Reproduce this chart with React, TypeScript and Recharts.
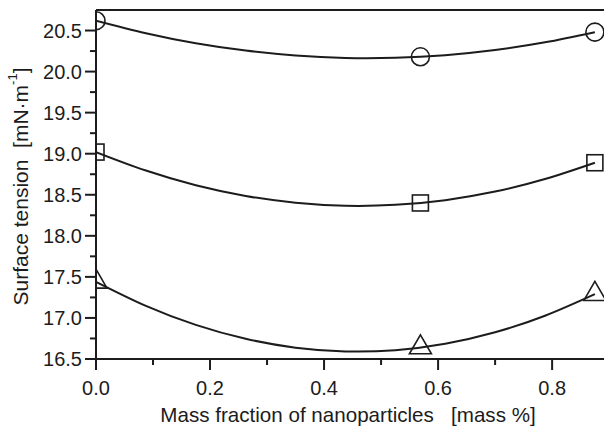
import React from "react"
import { ComposedChart, Line, Scatter, XAxis, YAxis, ReferenceLine } from "recharts"

// measured points (x = mass fraction, y = surface tension)
const xPoints = [0, 0.569, 0.875]
const circleValues = [20.62, 20.18, 20.48]
const squareValues = [19.02, 18.4, 18.89]
const triangleValues = [17.44, 16.64, 17.29]

// fitted curves
const curveX = [0, 0.0875, 0.175, 0.2625, 0.35, 0.4375, 0.525, 0.6125, 0.7, 0.7875, 0.875]
const circleCurve = [20.62, 20.468, 20.346, 20.256, 20.196, 20.166, 20.168, 20.2, 20.263, 20.356, 20.48]
const squareCurve = [19.02, 18.795, 18.617, 18.486, 18.403, 18.366, 18.377, 18.434, 18.539, 18.691, 18.89]
const triangleCurve = [17.44, 17.147, 16.916, 16.746, 16.638, 16.592, 16.608, 16.686, 16.826, 17.027, 17.29]

const xTicks = [0, 0.1, 0.2, 0.3, 0.4, 0.5, 0.6, 0.7, 0.8]
const yTicks = [16.5, 16.75, 17, 17.25, 17.5, 17.75, 18, 18.25, 18.5, 18.75, 19, 19.25, 19.5, 19.75, 20, 20.25, 20.5]

const FONT = "'Liberation Sans', Arial, sans-serif"
const INK = "#1c1c1c"

const curveData = curveX.map((x, i) => ({
    x,
    circle: circleCurve[i],
    square: squareCurve[i],
    triangle: triangleCurve[i],
}))
const toPoints = (vals: number[]) => xPoints.map((x, i) => ({ x, y: vals[i] }))

const isMajor = (v: number, step: number) => Math.abs(v / step - Math.round(v / step)) < 1e-6

function XTick(props: any) {
    const { x, y, payload } = props
    const major = isMajor(payload.value, 0.2)
    return (
        <g>
            <line x1={x} x2={x} y1={y} y2={y + (major ? 11 : 6)} stroke={INK} strokeWidth={2} />
            {major && (
                <text x={x} y={y + 36} textAnchor="middle" fontSize={20} fill={INK} fontFamily={FONT}>
                    {payload.value.toFixed(1)}
                </text>
            )}
        </g>
    )
}

function YTick(props: any) {
    const { x, y, payload } = props
    const major = isMajor(payload.value, 0.5)
    return (
        <g>
            <line x1={x} x2={x - (major ? 11 : 6)} y1={y} y2={y} stroke={INK} strokeWidth={2} />
            {major && (
                <text x={x - 14} y={y + 7} textAnchor="end" fontSize={20} fill={INK} fontFamily={FONT}>
                    {payload.value.toFixed(1)}
                </text>
            )}
        </g>
    )
}

// markers are cut at the plot frame, like in the original
const circleShape = (p: any) => (
    <circle cx={p.cx} cy={p.cy} r={9} fill="none" stroke={INK} strokeWidth={1.6} clipPath="url(#plot-frame)" />
)
const squareShape = (p: any) => (
    <rect
        x={p.cx - 8}
        y={p.cy - 8}
        width={16}
        height={16}
        fill="none"
        stroke={INK}
        strokeWidth={1.6}
        clipPath="url(#plot-frame)"
    />
)
const triangleShape = (p: any) => (
    <path
        d={`M${p.cx},${p.cy - 12.7} L${p.cx + 11},${p.cy + 6.3} L${p.cx - 11},${p.cy + 6.3} Z`}
        fill="none"
        stroke={INK}
        strokeWidth={1.6}
        clipPath="url(#plot-frame)"
    />
)

function YTitle(props: any) {
    const vb = props.viewBox
    const cx = vb.x + 20
    const cy = vb.y + vb.height / 2 + 2
    return (
        <text
            transform={`translate(${cx},${cy}) rotate(-90)`}
            textAnchor="middle"
            dominantBaseline="central"
            fontSize={21}
            fill={INK}
            fontFamily={FONT}
            style={{ whiteSpace: "pre" }}
        >
            {"Surface tension  [mN·m"}
            <tspan fontSize={13} dy={-8}>-1</tspan>
            <tspan dy={8}>]</tspan>
        </text>
    )
}

function XTitle(props: any) {
    const vb = props.viewBox
    return (
        <g>
            <defs>
                <clipPath id="plot-frame">
                    <rect x={vb.x} y={0} width={vb.width} height={vb.y} />
                </clipPath>
            </defs>
            <text
                x={vb.x + vb.width / 2 - 2}
                y={vb.y + 63}
                textAnchor="middle"
                fontSize={20.6}
                fill={INK}
                fontFamily={FONT}
                style={{ whiteSpace: "pre" }}
            >
                {"Mass fraction of nanoparticles   [mass %]"}
            </text>
        </g>
    )
}

export default function App() {
    return (
        <div style={{ position: "absolute", left: 0, top: 0, background: "#fff" }}>
            <ComposedChart
                width={604}
                height={431}
                data={curveData}
                margin={{ top: 10, right: 0, bottom: 0, left: 0 }}
            >
                <XAxis
                    dataKey="x"
                    type="number"
                    domain={[0, 0.891]}
                    ticks={xTicks}
                    allowDataOverflow
                    height={72}
                    tickSize={0}
                    tickMargin={0}
                    tickLine={false}
                    tick={<XTick />}
                    axisLine={{ stroke: INK, strokeWidth: 2 }}
                    interval={0}
                    label={{ content: <XTitle /> }}
                />
                <YAxis
                    type="number"
                    domain={[16.5, 20.75]}
                    ticks={yTicks}
                    allowDataOverflow
                    width={96}
                    tickSize={0}
                    tickMargin={0}
                    tickLine={false}
                    tick={<YTick />}
                    axisLine={{ stroke: INK, strokeWidth: 2 }}
                    interval={0}
                    label={{ content: <YTitle /> }}
                />
                <ReferenceLine y={20.75} stroke={INK} strokeWidth={2} />
                <Line type="natural" dataKey="circle" stroke={INK} strokeWidth={2} dot={false} isAnimationActive={false} />
                <Line type="natural" dataKey="square" stroke={INK} strokeWidth={2} dot={false} isAnimationActive={false} />
                <Line type="natural" dataKey="triangle" stroke={INK} strokeWidth={2} dot={false} isAnimationActive={false} />
                <Scatter data={toPoints(circleValues)} dataKey="y" shape={circleShape} isAnimationActive={false} />
                <Scatter data={toPoints(squareValues)} dataKey="y" shape={squareShape} isAnimationActive={false} />
                <Scatter data={toPoints(triangleValues)} dataKey="y" shape={triangleShape} isAnimationActive={false} />
            </ComposedChart>
        </div>
    )
}
